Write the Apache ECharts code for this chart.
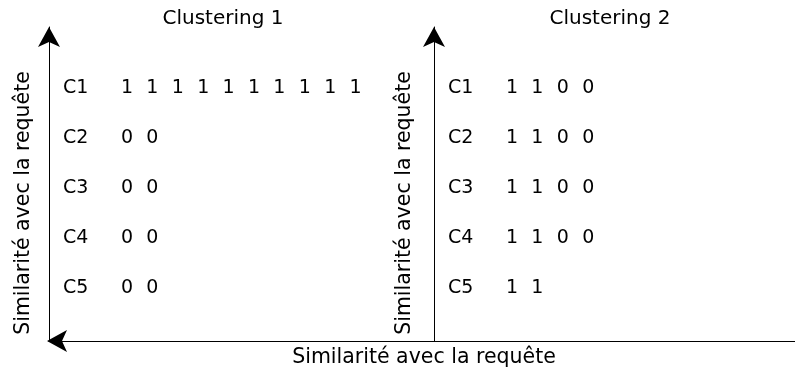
<!DOCTYPE html>
<html>
<head>
<meta charset="utf-8">
<script src="https://cdn.jsdelivr.net/npm/echarts@6/dist/echarts.min.js"></script>
<style>
html,body{margin:0;padding:0;background:#fff;}
#chart{width:795px;height:372px;}
</style>
</head>
<body>
<div id="chart"></div>
<script>
// ---- data ----
const rowNames = ['C1', 'C2', 'C3', 'C4', 'C5'];
const clustering1 = [
  [1, 1, 1, 1, 1, 1, 1, 1, 1, 1],
  [0, 0],
  [0, 0],
  [0, 0],
  [0, 0]
];
const clustering2 = [
  [1, 1, 0, 0],
  [1, 1, 0, 0],
  [1, 1, 0, 0],
  [1, 1, 0, 0],
  [1, 1]
];
const panelTitles = ['Clustering 1', 'Clustering 2'];
const axisTitle = 'Similarité avec la requête';

// ---- layout ----
const FONT = 'DejaVu Sans';
const W = 795, H = 372;
const gridTop = 27, gridBottom = 31;
const gridA = { left: 49, right: 361 };
const gridB = { left: 434, right: 0 };
const colStep = 25.4, colOffset = 78;
const ARROW = [16.5, 20];

function xRange(g) {
  const w = W - g.left - g.right;
  const min = -colOffset / colStep;
  return { min: min, max: min + w / colStep };
}
const nRows = rowNames.length;
function buildCells(mat) {
  const out = [];
  mat.forEach((row, r) => row.forEach((v, k) => out.push([k, nRows - r, v])));
  return out;
}
const ra = xRange(gridA), rb = xRange(gridB);

function xAxisCfg(gi, r, arrow) {
  return {
    type: 'value', gridIndex: gi, min: r.min, max: r.max,
    axisLine: { show: true, onZero: false, lineStyle: { color: '#000', width: 1 },
      symbol: arrow ? ['arrow', 'none'] : ['none', 'none'],
      symbolSize: ARROW, symbolOffset: [-2, 0] },
    axisTick: { show: false }, axisLabel: { show: false }, splitLine: { show: false }
  };
}
function yAxisCfg(gi) {
  return {
    type: 'value', gridIndex: gi, min: -0.06, max: 6.22,
    axisLine: { show: true, onZero: false, lineStyle: { color: '#000', width: 1 },
      symbol: ['none', 'arrow'], symbolSize: ARROW, symbolOffset: [0, 0] },
    axisTick: { show: false },
    axisLabel: {
      show: true, inside: true, margin: 14,
      customValues: rowNames.map((_, i) => nRows - i),
      formatter: v => rowNames[nRows - v],
      color: '#000', fontFamily: FONT, fontSize: 19
    },
    splitLine: { show: false }
  };
}
function cellSeries(gi, mat) {
  return {
    type: 'scatter', xAxisIndex: gi, yAxisIndex: gi,
    data: buildCells(mat), symbolSize: 0, silent: true,
    itemStyle: { opacity: 1 },
    label: { show: true, position: 'inside', formatter: p => String(p.value[2]),
      color: '#000', opacity: 1, fontFamily: FONT, fontSize: 19 }
  };
}
function txt(text, x, y, rot, size) {
  return { type: 'text', x: x, y: y, rotation: rot || 0, silent: true,
    style: { text: text, fill: '#000', font: size + 'px "' + FONT + '"',
      align: 'center', verticalAlign: 'middle', textAlign: 'center', textVerticalAlign: 'middle' } };
}

const chart = echarts.init(document.getElementById('chart'), null, { renderer: 'canvas' });
chart.setOption({
  backgroundColor: '#fff',
  animation: false,
  grid: [
    { left: gridA.left, right: gridA.right, top: gridTop, bottom: gridBottom, outerBoundsMode: 'none' },
    { left: gridB.left, right: gridB.right, top: gridTop, bottom: gridBottom, outerBoundsMode: 'none' }
  ],
  xAxis: [xAxisCfg(0, ra, true), xAxisCfg(1, rb, false)],
  yAxis: [yAxisCfg(0), yAxisCfg(1)],
  series: [cellSeries(0, clustering1), cellSeries(1, clustering2)],
  graphic: [
    txt(panelTitles[0], 223, 19, 0, 20),
    txt(panelTitles[1], 610, 19, 0, 20),
    txt(axisTitle, 424, 358, 0, 20.5),
    txt(axisTitle, 24, 203, Math.PI / 2, 20.5),
    txt(axisTitle, 405, 203, Math.PI / 2, 20.5)
  ]
});
</script>
</body>
</html>
